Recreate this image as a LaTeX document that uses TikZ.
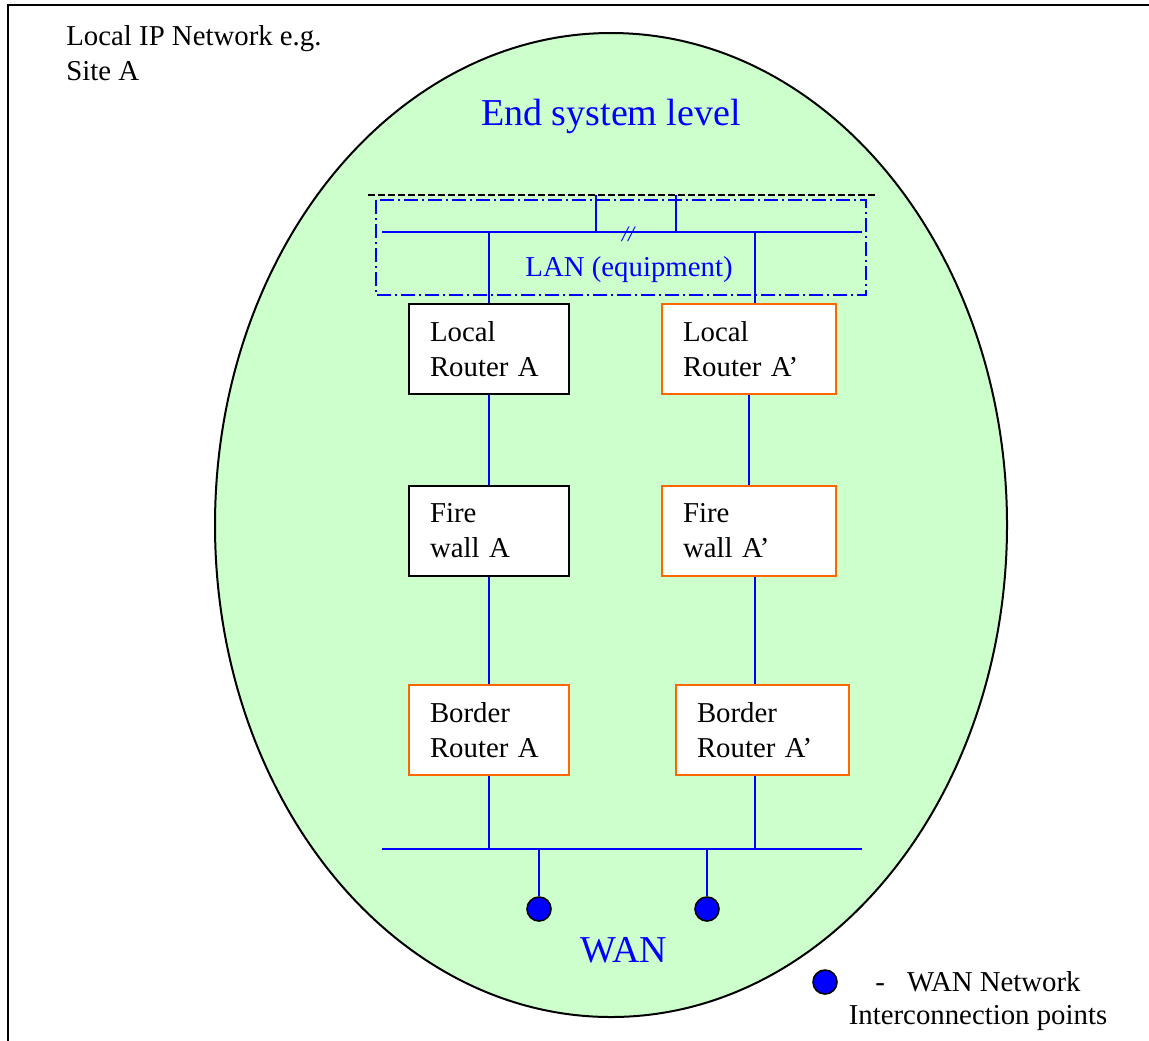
\documentclass[tikz,border=0pt]{standalone}
\usepackage{fontspec}
\setmainfont{Liberation Serif}
\usetikzlibrary{calc, positioning}

\definecolor{sitegreen}{RGB}{204,255,204}
\definecolor{netblue}{RGB}{0,0,255}
\definecolor{boxorange}{RGB}{255,102,0}

\newcommand{\bodyfont}{\fontsize{14.4}{17.5}\selectfont}
\newcommand{\titlefont}{\fontsize{19}{23}\selectfont}

\tikzset{
  box/.style={draw=black, line width=0.8pt, fill=white, minimum height=45pt,
    inner xsep=10.5pt, inner ysep=0pt, align=left, text width=#1, font=\bodyfont},
  obox/.style={box=#1, draw=boxorange},
  wire/.style={draw=netblue, line width=0.8pt},
  wanpoint/.style={circle, draw=black, fill=netblue, line width=0.8pt,
    minimum size=12pt, inner sep=0pt},
  bluelabel/.style={text=netblue, inner sep=0pt}
}

\begin{document}
\begin{tikzpicture}[x=0.5pt, y=-0.5pt]
  \useasboundingbox (0,0) rectangle (1149,1040);
  % Site frame
  \draw[line width=1pt] (8,1045) -- (8,5) -- (1155,5);
  \node[anchor=north west, align=left, inner sep=0pt, font=\bodyfont] (site) at (66,25)
    {Local IP Network e.g.\\Site A};
  % End system area
  \draw[fill=sitegreen, line width=1pt] (611,525) ellipse [x radius=198pt, y radius=246pt];
  \node[bluelabel, font=\titlefont] (endsys) at (611,116) {End system level};

  % LAN (equipment)
  \draw[dash pattern=on 3.5pt off 1.5pt, line width=0.6pt] (368,195) coordinate (topW) -- (878,195) coordinate (topE);
  \draw[netblue, line width=0.8pt, dash pattern=on 7pt off 2pt on 1pt off 2pt] (376,200) rectangle (866,295);
  \coordinate (lanW) at (382,232);
  \coordinate (lanE) at (862,232);
  \coordinate (lanL) at (489,232);
  \coordinate (lanR) at (755,232);
  \coordinate (lanU1) at (596,232);
  \coordinate (lanU2) at (676,232);
  \draw[wire] (lanW) -- (lanE);
  \draw[wire] (lanU1) -- (lanU1 |- topW);
  \draw[wire] (lanU2) -- (lanU2 |- topW);
  \node[bluelabel, font=\fontsize{11}{13}\selectfont\itshape] (cut) at (628,234) {//};
  \node[bluelabel, font=\bodyfont] (lan) at (629,270) {LAN (equipment)};

  % Routers and firewalls
  \node[box=59pt] (lrA) at (489,349) {Local\\Router A};
  \node[obox=66pt] (lrB) at (749,349) {Local\\Router A’};
  \node[box=59pt] (fwA) at (489,531) {Fire\\wall A};
  \node[obox=66pt] (fwB) at (749,531) {Fire\\wall A’};
  \node[obox=59pt] (brA) at (489,730) {Border\\Router A};
  \node[obox=65.5pt] (brB) at (762.5,730) {Border\\Router A’};

  % WAN bus
  \coordinate (wanW) at (382,849);
  \coordinate (wanE) at (862,849);
  \coordinate (wanL) at (489,849);
  \coordinate (wanR) at (755,849);
  \draw[wire] (wanW) -- (wanE);

  % Column A
  \draw[wire] (lanL) -- (lrA);
  \draw[wire] (lrA) -- (fwA);
  \draw[wire] (fwA) -- (brA);
  \draw[wire] (brA) -- (wanL);
  % Column A'
  \draw[wire] (lanR) -- (lanR |- lrB.north);
  \draw[wire] (lrB) -- (fwB);
  \draw[wire] (fwB.south -| lanR) -- (brB.north -| lanR);
  \draw[wire] (brB.south -| lanR) -- (wanR);

  % Interconnection points
  \node[wanpoint] (wp1) at (539,909) {};
  \node[wanpoint] (wp2) at (707,909) {};
  \draw[wire] (wp1 |- wanW) -- (wp1);
  \draw[wire] (wp2 |- wanW) -- (wp2);
  \node[bluelabel, font=\titlefont] (wan) at (624,950) {WAN};

  % Legend
  \node[wanpoint] (legdot) at (825,982) {};
  \node[align=center, inner sep=0pt, font=\fontsize{14.4}{16.5}\selectfont] (legtext) at (978,1001)
    {-\hspace{11pt}WAN Network\\Interconnection points};
\end{tikzpicture}
\end{document}
